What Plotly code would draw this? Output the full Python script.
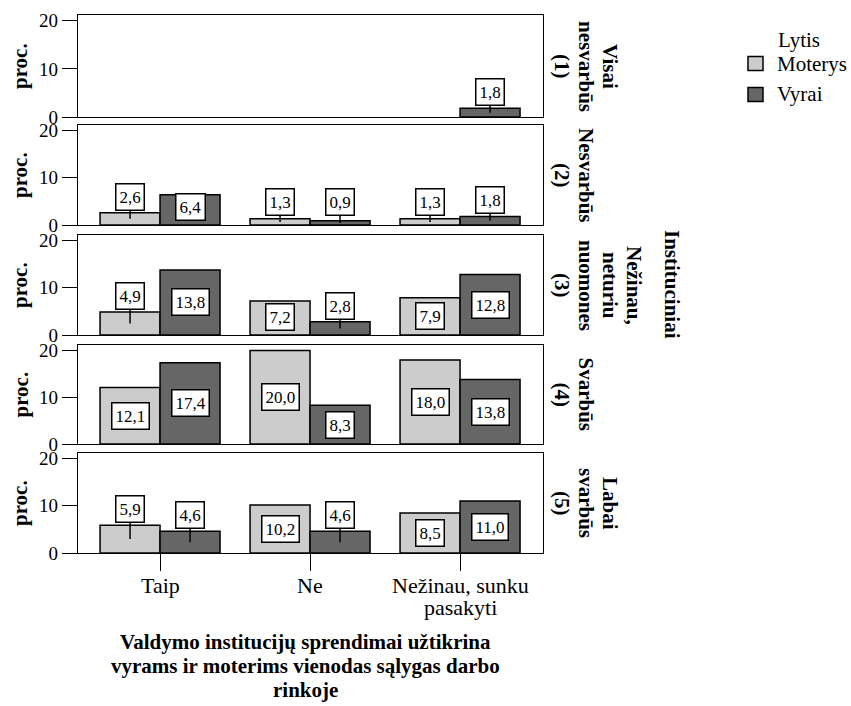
import plotly.graph_objects as go

# ---------------- data ----------------
categories = ["Taip", "Ne", "Nežinau, sunku<br>pasakyti"]
panel_labels = [
    "Visai<br>nesvarbūs<br>(1)",
    "Nesvarbūs<br>(2)",
    "Nežinau,<br>neturiu<br>nuomones<br>(3)",
    "Svarbūs<br>(4)",
    "Labai<br>svarbūs<br>(5)",
]
moterys = [
    [None, None, None],
    [2.6, 1.3, 1.3],
    [4.9, 7.2, 7.9],
    [12.1, 20.0, 18.0],
    [5.9, 10.2, 8.5],
]
vyrai = [
    [None, None, 1.8],
    [6.4, 0.9, 1.8],
    [13.8, 2.8, 12.8],
    [17.4, 8.3, 13.8],
    [4.6, 4.6, 11.0],
]
series_names = ["Moterys", "Vyrai"]
legend_title = "Lytis"
group_title = "Instituciniai"
y_title = "proc."
x_title = "Valdymo institucijų sprendimai užtikrina<br>vyrams ir moterims vienodas sąlygas darbo<br>rinkoje"
y_ticks = [0, 10, 20]

# ---------------- style ----------------
W, H = 851, 706
L, R, T, B = 78, 308, 15, 153
FONT = "Liberation Serif"
C_M = "#cccccc"
C_V = "#666666"
panel_px = [(15, 117), (125, 225), (235, 335), (345, 444), (453, 553)]
plot_h = H - T - B
plot_w = W - L - R


def py(p):
    return (H - B - p) / plot_h


def px(p):
    return (p - L) / plot_w


fig = go.Figure()
layout = {}
annotations = []
shapes = []
n = len(panel_labels)
xs = list(range(len(categories)))
for i in range(n):
    k = "" if i == 0 else str(i + 1)
    xa, ya = "x" + k, "y" + k
    top, bot = panel_px[i]
    for vals, name, col in ((moterys[i], series_names[0], C_M), (vyrai[i], series_names[1], C_V)):
        fig.add_trace(go.Bar(
            x=xs, y=vals, name=name,
            marker=dict(color=col, line=dict(color="black", width=1.5)),
            xaxis=xa, yaxis=ya, showlegend=False, offsetgroup=name,
            hoverinfo="skip"))
    last = i == n - 1
    layout["xaxis" + k] = dict(
        domain=[0, 1], anchor=ya, range=[-0.547, 2.553],
        tickvals=xs if last else [], showticklabels=False,
        ticks="outside" if last else "", ticklen=17, tickcolor="black",
        showline=True, mirror=True, linecolor="black", linewidth=1,
        showgrid=False, zeroline=False, automargin=False,
        fixedrange=True,
        matches=None if i == 0 else "x")
    layout["yaxis" + k] = dict(
        domain=[py(bot), py(top)], anchor=xa, range=[0, 21.2],
        tickvals=y_ticks, ticks="outside", ticklen=15, tickcolor="black",
        showline=True, mirror=True, linecolor="black", linewidth=1.2,
        showgrid=False, zeroline=False, automargin=False,
        tickfont=dict(family=FONT, size=19, color="black"))
    # y title
    annotations.append(dict(
        text="<b>%s</b>" % y_title, xref="paper", yref="paper",
        x=px(20), y=py((top + bot) / 2), textangle=-90, showarrow=False,
        xanchor="center", yanchor="middle",
        font=dict(family=FONT, size=21, color="black")))
    # right panel label, one annotation per line
    lines = panel_labels[i].split("<br>")
    for li, line in enumerate(lines):
        cx = 562 + (len(lines) - 1 - li) * 24
        annotations.append(dict(
            text="<b>%s</b>" % line, xref="paper", yref="paper",
            x=px(cx), y=py((top + bot) / 2), textangle=90, showarrow=False,
            xanchor="center", yanchor="middle",
            font=dict(family=FONT, size=21, color="black")))
    # data labels
    for vals, off in ((moterys[i], -0.2), (vyrai[i], 0.2)):
        for j, v in enumerate(vals):
            if v is None:
                continue
            if v >= 6:
                yl = max(v / 2, 3.8)
            else:
                yl = max(v + 3.4, 4.8)
            txt = ("%.1f" % v).replace(".", ",")
            annotations.append(dict(
                text=txt, x=j + off, y=yl, xref=xa, yref=ya, showarrow=False,
                xanchor="center", yanchor="middle",
                bgcolor="white", bordercolor="black", borderwidth=1.5, borderpad=3,
                font=dict(family=FONT, size=17, color="black")))
            if yl - 2.5 > v:
                shapes.append(dict(
                    type="line", xref=xa, yref=ya, x0=j + off, x1=j + off,
                    y0=yl - 2.5, y1=v / 2, line=dict(color="black", width=1.5)))

# category tick labels (bottom axis), one annotation per line
last_x = "x" + str(n)
for j, cat in enumerate(categories):
    for li, line in enumerate(cat.split("<br>")):
        annotations.append(dict(
            text=line, xref=last_x, yref="paper", x=xs[j], y=py(585 + 22 * li),
            showarrow=False, xanchor="center", yanchor="middle",
            font=dict(family=FONT, size=22, color="black")))

# group title
annotations.append(dict(
    text="<b>%s</b>" % group_title, xref="paper", yref="paper",
    x=px(672), y=py(284), textangle=90, showarrow=False,
    xanchor="center", yanchor="middle",
    font=dict(family=FONT, size=21, color="black")))
# x title, one annotation per line
for li, line in enumerate(x_title.split("<br>")):
    annotations.append(dict(
        text="<b>%s</b>" % line, xref="paper", yref="paper",
        x=px(305), y=py(642 + 24 * li), showarrow=False,
        xanchor="center", yanchor="middle",
        font=dict(family=FONT, size=21, color="black")))
# legend
annotations.append(dict(
    text=legend_title, xref="paper", yref="paper", x=px(799), y=py(40),
    showarrow=False, xanchor="center", yanchor="middle",
    font=dict(family=FONT, size=21, color="black")))
for idx, (name, col) in enumerate(zip(series_names, (C_M, C_V))):
    cy = 63.5 + idx * 31
    shapes.append(dict(type="rect", xref="paper", yref="paper",
                       x0=px(748), x1=px(763), y0=py(cy - 7), y1=py(cy + 7),
                       fillcolor=col, line=dict(color="black", width=1.5)))
    annotations.append(dict(
        text=name, xref="paper", yref="paper", x=px(775), y=py(cy),
        showarrow=False, xanchor="left", yanchor="middle",
        font=dict(family=FONT, size=21, color="black")))

fig.update_layout(
    width=W, height=H,
    margin=dict(l=L, r=R, t=T, b=B, autoexpand=False),
    plot_bgcolor="white", paper_bgcolor="white",
    barmode="group", bargap=0.2, bargroupgap=0,
    showlegend=False,
    annotations=annotations, shapes=shapes,
    font=dict(family=FONT, color="black"),
    **layout)
fig.write_html("out.html", config={"displayModeBar": False},
               post_script="document.body.style.margin='0px';document.body.style.padding='0px';")
